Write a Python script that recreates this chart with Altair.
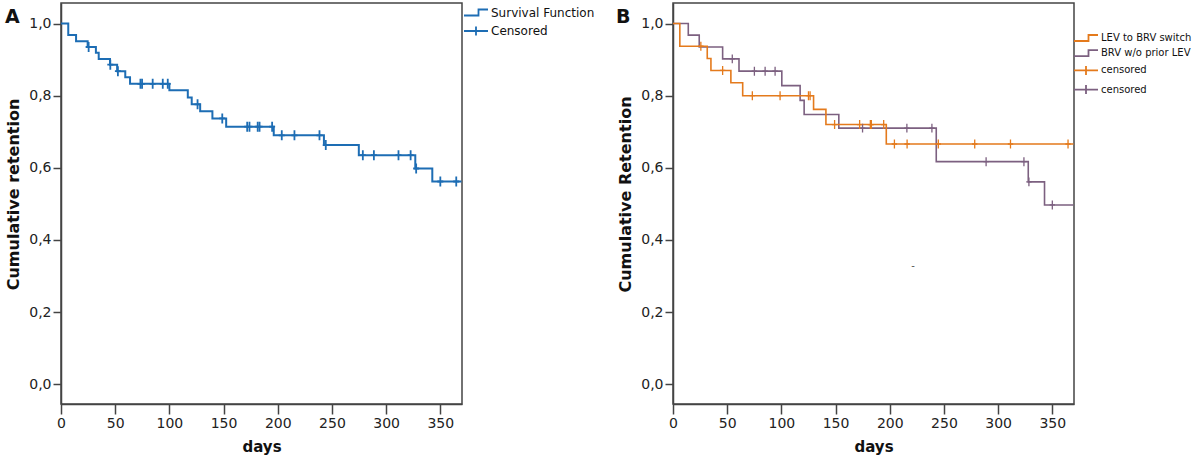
import altair as alt
import pandas as pd

FONT = "DejaVu Sans"
BLUE = "#1d6db4"
ORANGE = "#e47a1c"
PURPLE = "#7c6080"
AXIS_C = "#444444"

# ---------------- Panel A data ----------------
a_step_days = [0, 6.7, 13.9, 24.6, 32.2, 34.8, 45.2, 51.8, 59.3, 63.7, 100.0, 117.0,
               120.6, 128.4, 139.7, 152.4, 196.3, 242.6, 274.8, 326.9, 342.6, 369.5]
a_step_surv = [1.0, 0.968, 0.951, 0.935, 0.919, 0.902, 0.886, 0.868, 0.851, 0.833, 0.815, 0.795,
               0.776, 0.757, 0.737, 0.714, 0.690, 0.663, 0.635, 0.598, 0.562, 0.562]
a_cens_days = [25.5, 45.5, 52.5, 73.3, 74.8, 84.6, 93.9, 98.5, 126.0, 148.8, 171.8, 173.9,
               181.5, 183.2, 194.8, 203.7, 215.4, 238.5, 244.3, 278.5, 288.7, 311.4, 322.6,
               327.7, 350.0, 364.7]

# ---------------- Panel B data ----------------
b1_name = "LEV to BRV switch"
b1_step_days = [0, 6.3, 31.6, 35.0, 53.4, 64.3, 129.7, 141.1, 196.8, 369.5]
b1_step_surv = [1.0, 0.937, 0.903, 0.870, 0.836, 0.800, 0.762, 0.720, 0.666, 0.666]
b1_cens_days = [25.7, 45.8, 73.2, 98.8, 125.0, 126.5, 149.1, 172.2, 182.1, 183.0, 194.4,
                204.3, 216.0, 244.8, 278.4, 311.4, 364.5]

b2_name = "BRV w/o prior LEV"
b2_step_days = [0, 14.1, 24.2, 45.8, 60.9, 100.4, 117.3, 121.0, 153.0, 242.9, 327.8, 342.8, 369.5]
b2_step_surv = [1.0, 0.968, 0.935, 0.902, 0.868, 0.828, 0.787, 0.748, 0.710, 0.617, 0.561,
                0.497, 0.497]
b2_cens_days = [54.7, 75.1, 85.0, 94.2, 174.9, 215.8, 238.9, 288.9, 323.8, 328.4, 350.0]

stray_mark = {"t": [221.4], "s": [0.327], "txt": ["-"]}

x_ticks = [0, 50, 100, 150, 200, 250, 300, 350]
y_ticks = [0.0, 0.2, 0.4, 0.6, 0.8, 1.0]

W, H = 401, 401
XDOM = [0, 370]
YDOM = [-0.055, 1.057]

STEP_PATH = "M-2.4,0.6H0.5V-0.6H2.4"
CROSS_PATH = "M-2.4,0H2.4M0,-0.9V0.9"
TICK_PATH = "M0,-1V1M-0.6,0H0.6"


def step_value(days, surv, t):
    s = surv[0]
    for d, v in zip(days, surv):
        if d <= t:
            s = v
    return s


def axes(ytitle):
    xs = alt.Scale(domain=XDOM, nice=False, zero=False)
    ys = alt.Scale(domain=YDOM, nice=False, zero=False)
    xa = alt.Axis(values=x_ticks, title="days", grid=False, tickSize=10, tickWidth=1.5,
                  domainWidth=1.5, domainColor=AXIS_C, tickColor=AXIS_C,
                  labelFont=FONT, labelFontSize=14, labelColor="#222", labelPadding=2,
                  titleFont=FONT, titleFontSize=15, titleFontWeight="bold",
                  titleColor="#111", titlePadding=9, labelFlush=False)
    ya = alt.Axis(values=y_ticks, title=ytitle, grid=False, tickSize=8, tickWidth=1.5,
                  domainWidth=1.5, domainColor=AXIS_C, tickColor=AXIS_C,
                  labelExpr="replace(format(datum.value, '.1f'), '.', ',')",
                  labelFont=FONT, labelFontSize=14, labelColor="#222", labelPadding=2,
                  titleFont=FONT, titleFontSize=16, titleFontWeight="bold",
                  titleColor="#111", titlePadding=7, titleY=191)
    return xs, ys, xa, ya


def legend(x, y, font_size, row_pad):
    return alt.Legend(orient="none", legendX=x, legendY=y, title=None, padding=0,
                      labelFont=FONT, labelFontSize=font_size, labelColor="#111",
                      labelOffset=9, labelLimit=300, symbolSize=100, symbolStrokeWidth=1.8,
                      symbolOpacity=1, rowPadding=row_pad)


def step_line(days, surv, color, width, xs, ys, xa, ya):
    df = pd.DataFrame({"t": days, "s": surv})
    return alt.Chart(df).mark_line(interpolate="step-after", strokeWidth=width,
                                   color=color).encode(
        x=alt.X("t:Q", scale=xs, axis=xa), y=alt.Y("s:Q", scale=ys, axis=ya))


def censor_marks(days, step_days, step_surv, color, size, width):
    df = pd.DataFrame({"t": days, "s": [step_value(step_days, step_surv, t) for t in days]})
    return alt.Chart(df).mark_point(shape=TICK_PATH, size=size, strokeWidth=width,
                                    filled=False, color=color, opacity=1).encode(
        x="t:Q", y="s:Q")


def panel_label(letter, dx):
    return alt.Chart(pd.DataFrame({"p": [letter]})).mark_text(
        font=FONT, fontSize=19, fontWeight="bold", align="left", baseline="middle",
        color="#111").encode(text="p:N", x=alt.value(dx), y=alt.value(14))


# ---------------- Panel A ----------------
xs, ys, xa, ya = axes("Cumulative retention")
keysA = ["Survival Function", "Censored"]
colA = alt.Scale(domain=keysA, range=[BLUE, BLUE])
shpA = alt.Scale(domain=keysA, range=[STEP_PATH, CROSS_PATH])
lgA = legend(409, 3.5, 12, 2.5)

lineA = step_line(a_step_days, a_step_surv, BLUE, 2, xs, ys, xa, ya)
censA = censor_marks(a_cens_days, a_step_days, a_step_surv, BLUE, 100, 1.8)
dummyA = alt.Chart(pd.DataFrame({"key": keysA})).mark_point(opacity=0, filled=False).encode(
    color=alt.Color("key:N", scale=colA, legend=lgA),
    shape=alt.Shape("key:N", scale=shpA, legend=lgA))

panelA = alt.layer(lineA, censA, dummyA, panel_label("A", -56)).properties(width=W, height=H)

# ---------------- Panel B ----------------
xs, ys, xa, ya = axes("Cumulative Retention")
keysB = [b1_name, b2_name, "censored", "censored "]
colB = alt.Scale(domain=keysB, range=[ORANGE, PURPLE, ORANGE, PURPLE])
shpB = alt.Scale(domain=keysB, range=[STEP_PATH, STEP_PATH, CROSS_PATH, CROSS_PATH])
lgB = legend(407, 29, 10, 1.2)

lineB2 = step_line(b2_step_days, b2_step_surv, PURPLE, 1.6, xs, ys, xa, ya)
lineB1 = step_line(b1_step_days, b1_step_surv, ORANGE, 1.6, xs, ys, xa, ya)
censB2 = censor_marks(b2_cens_days, b2_step_days, b2_step_surv, PURPLE, 80, 1.3)
censB1 = censor_marks(b1_cens_days, b1_step_days, b1_step_surv, ORANGE, 80, 1.3)
dummyB = alt.Chart(pd.DataFrame({"key": keysB})).mark_point(opacity=0, filled=False).encode(
    color=alt.Color("key:N", scale=colB, legend=lgB),
    shape=alt.Shape("key:N", scale=shpB, legend=lgB))
stray = alt.Chart(pd.DataFrame(stray_mark)).mark_text(
    font=FONT, fontSize=10, color="#555").encode(x="t:Q", y="s:Q", text="txt:N")

panelB = alt.layer(lineB2, lineB1, censB2, censB1, dummyB, stray,
                   panel_label("B", -57)).properties(width=W, height=H)

chart = alt.hconcat(panelA, panelB, spacing=211, bounds="flush").resolve_scale(
    color="independent", shape="independent"
).resolve_legend(color="independent", shape="independent").configure_view(
    stroke=AXIS_C, strokeWidth=1.5
).properties(padding={"left": 4, "top": 2, "right": 0, "bottom": 0}, background="white")

chart.save("out.html", embed_options={"renderer": "svg", "actions": False})
